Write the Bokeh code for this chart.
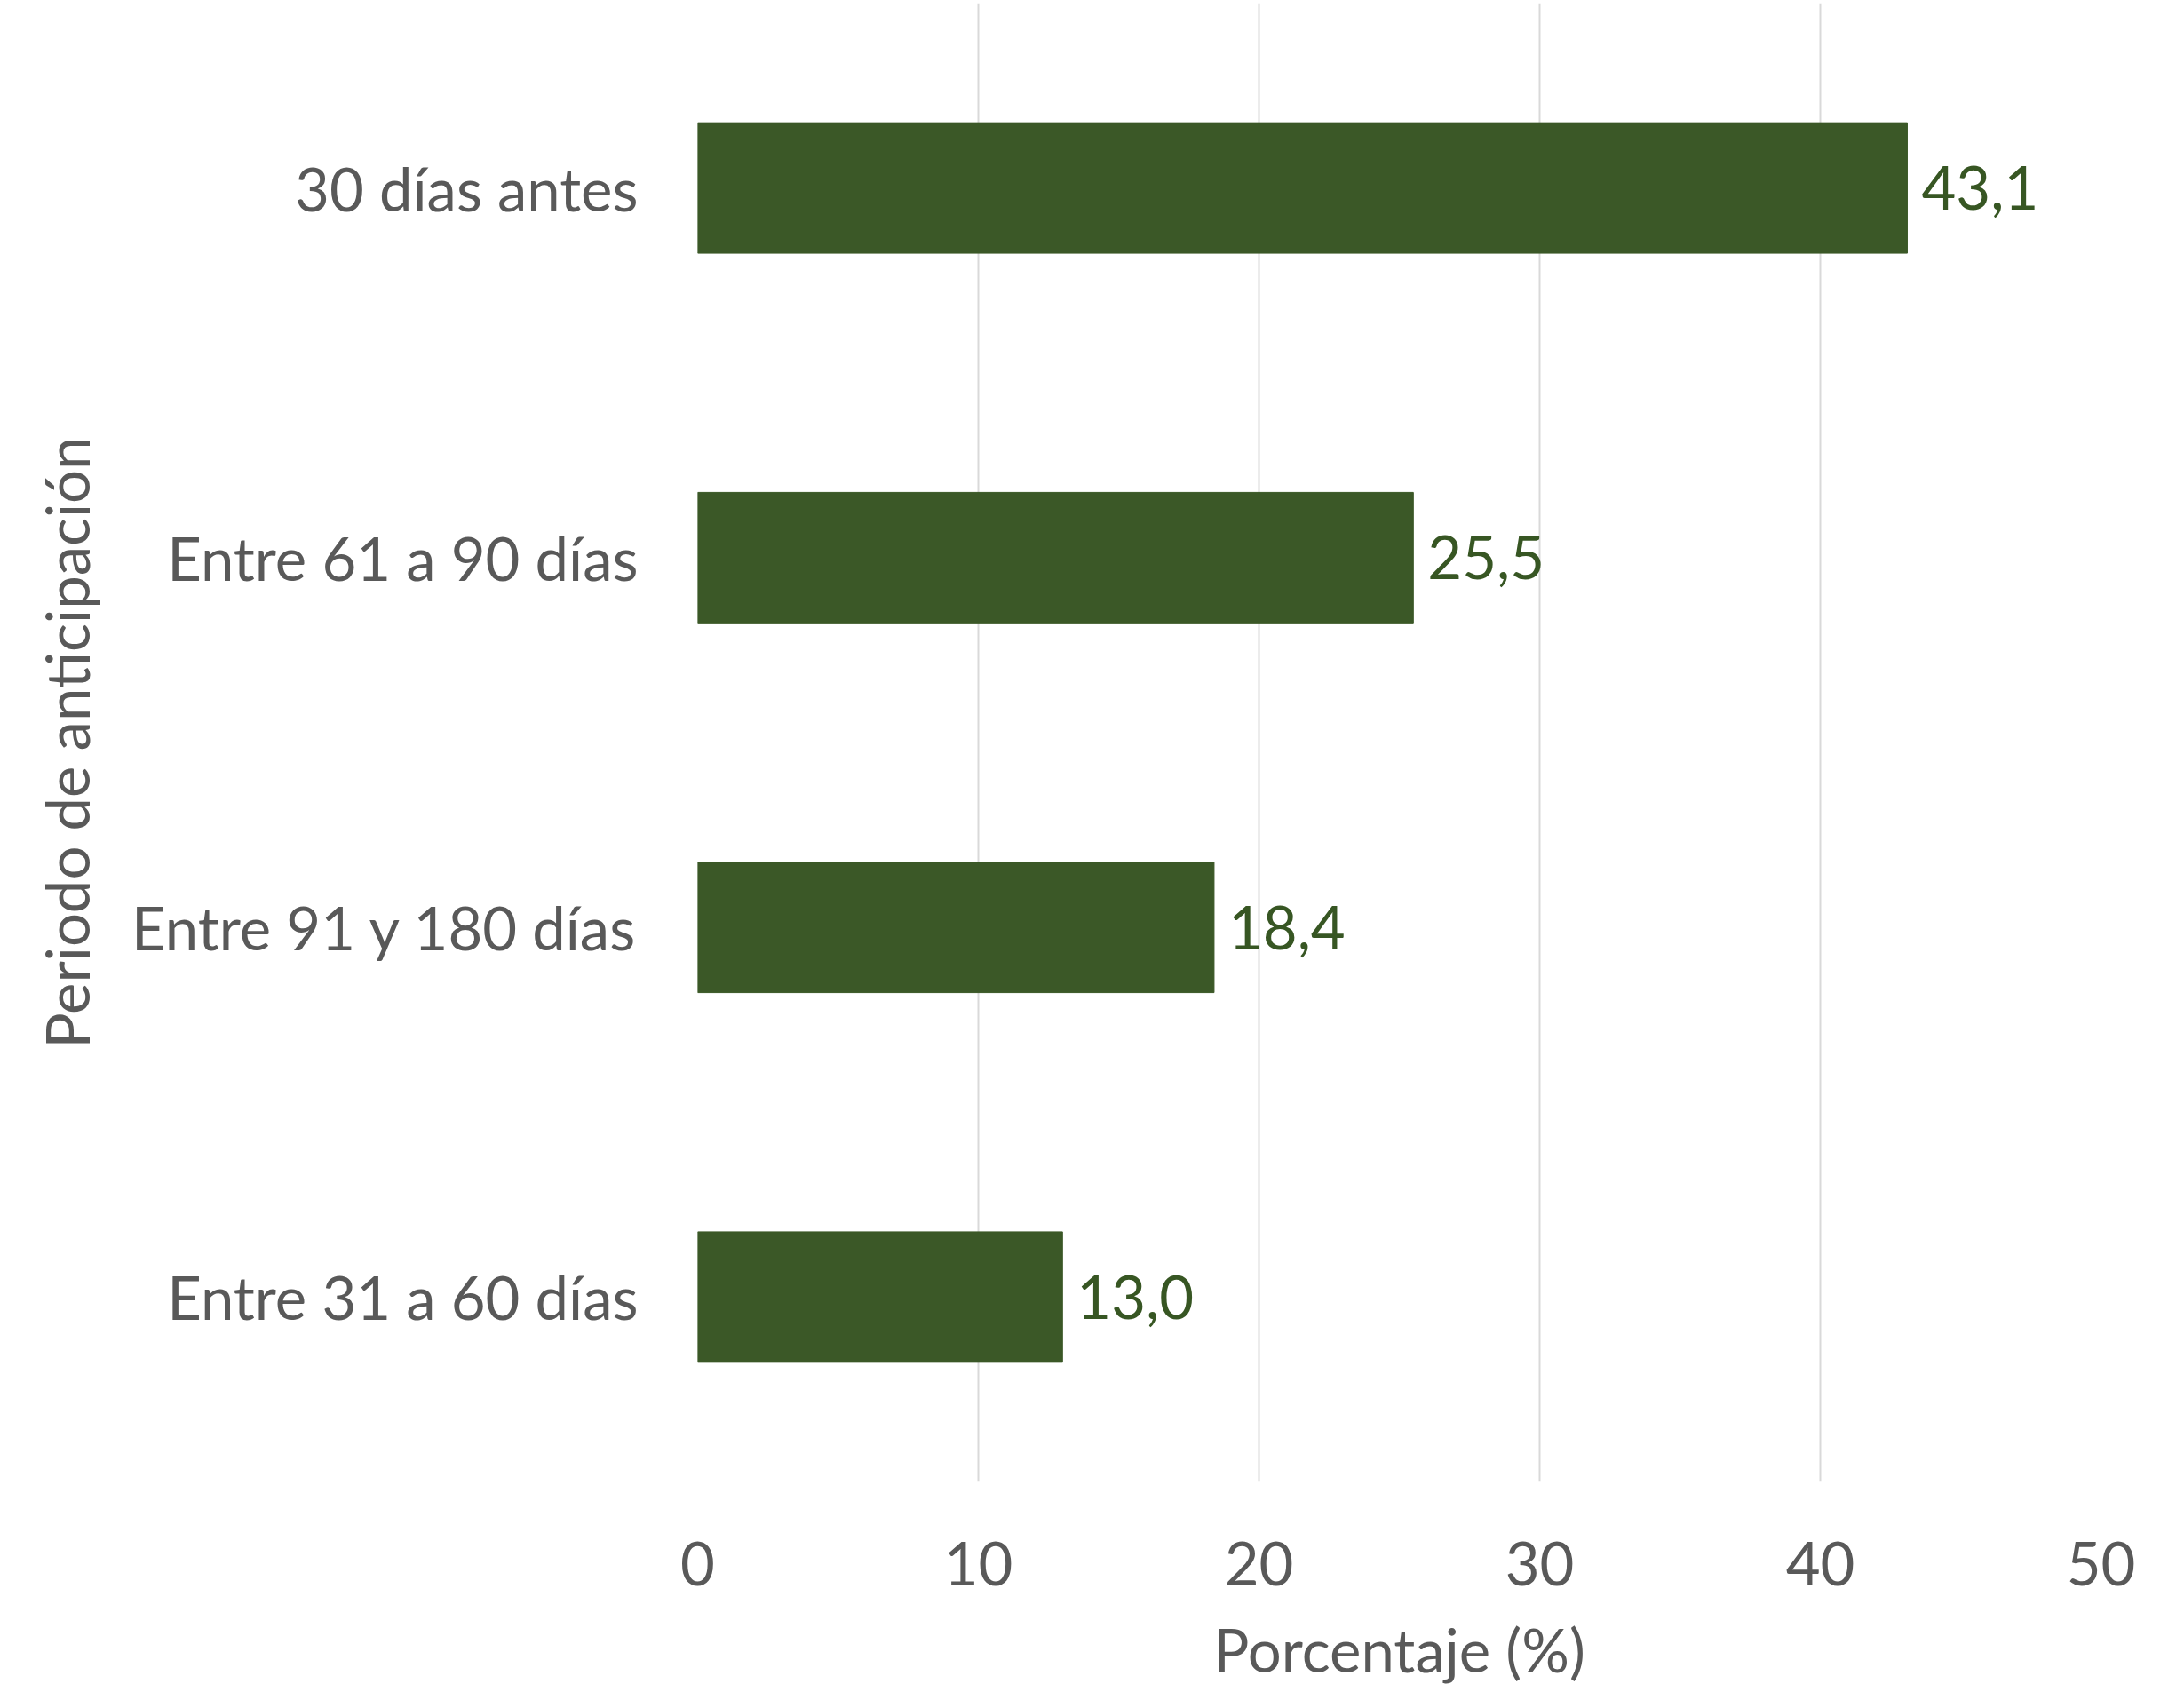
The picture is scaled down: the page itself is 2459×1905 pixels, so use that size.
from bokeh.plotting import figure
from bokeh.models import ColumnDataSource, FactorRange, FixedTicker
from bokeh.core.properties import value
from bokeh.embed import file_html
from bokeh.resources import INLINE

categories = ["30 días antes", "Entre 61 a 90 días", "Entre 91 y 180 días", "Entre 31 a 60 días"]
values = [43.1, 25.5, 18.4, 13.0]
labels = ["43,1", "25,5", "18,4", "13,0"]
x_ticks = [0, 10, 20, 30, 40, 50]

FONT = "Lato"
GRAY = "#595959"
GREEN = "#3B5827"

src = ColumnDataSource(dict(cat=categories, val=values, lab=labels))

p = figure(width=2450, height=1900, output_backend="svg", toolbar_location=None,
           y_range=FactorRange(*categories[::-1], range_padding=0),
           x_range=(0, 50),
           min_border_left=785, min_border_right=85, min_border_top=3, min_border_bottom=232)

p.hbar(y="cat", right="val", left=0, height=0.353, source=src, color=GREEN)
p.text(x="val", y="cat", text="lab", source=src, x_offset=16, text_align="left",
       text_baseline="middle", text_color="#375623", text_font=value(FONT), text_font_size="67px")

p.outline_line_color = None
p.ygrid.grid_line_color = None
p.xgrid.grid_line_color = "#d9d9d9"
p.xgrid.grid_line_width = 2
p.xaxis.ticker = FixedTicker(ticks=x_ticks)

for ax in (p.xaxis, p.yaxis):
    ax.axis_line_color = None
    ax.major_tick_line_color = None
    ax.minor_tick_line_color = None
    ax.major_label_text_font = FONT
    ax.major_label_text_color = GRAY
    ax.major_label_text_font_size = "67px"
    ax.axis_label_text_font = FONT
    ax.axis_label_text_color = GRAY
    ax.axis_label_text_font_size = "67px"
    ax.axis_label_text_font_style = "normal"

p.xaxis.axis_label = "Porcentaje (%)"
p.yaxis.axis_label = "Periodo de anticipación"
p.xaxis.major_label_standoff = 61
p.xaxis.axis_label_standoff = 29
p.yaxis.major_label_standoff = 61
p.yaxis.axis_label_standoff = 30

open("out.html", "w").write(file_html(p, INLINE))
